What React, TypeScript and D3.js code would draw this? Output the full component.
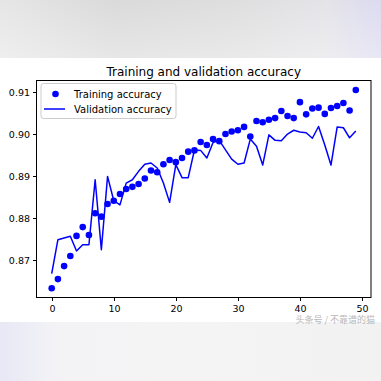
import React from "react";
import * as d3 from "d3";

const epochs = d3.range(50);
const trainingAcc = [
  0.8632, 0.8654, 0.8685, 0.8709, 0.8757, 0.8778, 0.8759, 0.8811, 0.8803, 0.8833,
  0.8841, 0.8857, 0.8869, 0.8874, 0.8881, 0.8894, 0.8913, 0.8909, 0.8928, 0.8938,
  0.8933, 0.8943, 0.8958, 0.8961, 0.8981, 0.8974, 0.8988, 0.8983, 0.9000, 0.9006,
  0.9009, 0.9017, 0.8994, 0.9031, 0.9028, 0.9034, 0.9038, 0.9055, 0.9043, 0.9038,
  0.9076, 0.9047, 0.9061, 0.9063, 0.9048, 0.9062, 0.9067, 0.9074, 0.9056, 0.9105,
];
const validationAcc = [
  0.8667, 0.8748, 0.8752, 0.8756, 0.8721, 0.8736, 0.8736, 0.8891, 0.8724, 0.8899,
  0.8841, 0.8831, 0.8883, 0.8891, 0.8911, 0.8928, 0.8931, 0.8919, 0.8883, 0.8837,
  0.8927, 0.8896, 0.8896, 0.8962, 0.8961, 0.8943, 0.8980, 0.8985, 0.8962, 0.8940,
  0.8928, 0.8931, 0.8988, 0.8971, 0.8926, 0.8998, 0.8985, 0.8984, 0.9000, 0.9009,
  0.9005, 0.9003, 0.8990, 0.9018, 0.8974, 0.8926, 0.9017, 0.9015, 0.8991, 0.9007,
];
const xTicks = [0, 10, 20, 30, 40, 50];
const yTicks = [0.87, 0.88, 0.89, 0.9, 0.91];
const title = "Training and validation accuracy";
const legendLabels = ["Training accuracy", "Validation accuracy"];
const watermark = "头条号 / 不靠谱的猫";

export default function App() {
  const W = 381, H = 381;
  const left = 36.5, right = 371, top = 80.5, bottom = 297.5;
  const x = d3.scaleLinear().domain([-2.45, 51.45]).range([left, right]);
  const y = d3.scaleLinear().domain([0.86101, 0.91277]).range([bottom, top]);
  const line = d3
    .line<number>()
    .x((_, i) => x(epochs[i]))
    .y((d) => y(d));
  const font = "'DejaVu Sans', sans-serif";
  const blue = "#0000ff";
  return (
    <svg
      width={W}
      height={H}
      style={{ position: "absolute", left: 0, top: 0 }}
      fontFamily={font}
    >
      <defs>
        <linearGradient id="topbg" x1="0" y1="0" x2="1" y2="0">
          <stop offset="0" stopColor="#e6e6e6" />
          <stop offset="0.3" stopColor="#dadada" />
          <stop offset="0.6" stopColor="#dedede" />
          <stop offset="0.85" stopColor="#e4e4e8" />
          <stop offset="1" stopColor="#dcdaf0" />
        </linearGradient>
        <linearGradient id="topv" x1="0" y1="0" x2="0" y2="1">
          <stop offset="0" stopColor="#ffffff" stopOpacity="0" />
          <stop offset="1" stopColor="#ffffff" stopOpacity="0.35" />
        </linearGradient>
        <linearGradient id="botbg" x1="0" y1="0" x2="1" y2="0">
          <stop offset="0" stopColor="#e8e8f6" />
          <stop offset="0.15" stopColor="#f3f3f6" />
          <stop offset="0.5" stopColor="#f4f4f4" />
          <stop offset="1" stopColor="#f2f2f2" />
        </linearGradient>
      </defs>
      <rect x={0} y={0} width={W} height={58} fill="url(#topbg)" />
      <rect x={0} y={0} width={W} height={58} fill="url(#topv)" />
      <rect x={0} y={58} width={W} height={264} fill="#ffffff" />
      <rect x={0} y={322} width={W} height={59} fill="url(#botbg)" />

      <text
        x={(left + right) / 2}
        y={76}
        textAnchor="middle"
        fontSize={12}
        fill="#000"
      >
        {title}
      </text>

      {/* validation line */}
      <path
        d={line(validationAcc) || ""}
        fill="none"
        stroke={blue}
        strokeWidth={1.5}
        strokeLinejoin="round"
      />
      {/* training points */}
      {trainingAcc.map((v, i) => (
        <circle key={i} cx={x(epochs[i])} cy={y(v)} r={3.3} fill={blue} />
      ))}

      {/* spines */}
      <rect
        x={left}
        y={top}
        width={right - left}
        height={bottom - top}
        fill="none"
        stroke="#000"
        strokeWidth={1}
      />

      {/* x ticks */}
      {xTicks.map((t) => (
        <g key={t} transform={`translate(${Math.round(x(t)) + 0.5},${bottom})`}>
          <line y1={0} y2={3.5} stroke="#000" />
          <text y={14.5} textAnchor="middle" fontSize={9.5} fill="#000">
            {t}
          </text>
        </g>
      ))}
      {/* y ticks */}
      {yTicks.map((t) => (
        <g key={t} transform={`translate(${left},${Math.round(y(t)) + 0.5})`}>
          <line x1={0} x2={-3.5} stroke="#000" />
          <text x={-6.5} dy="0.35em" textAnchor="end" fontSize={9.5} fill="#000">
            {d3.format(".2f")(t)}
          </text>
        </g>
      ))}

      {/* legend */}
      <g>
        <rect
          x={41}
          y={83.5}
          width={135}
          height={35}
          rx={2.5}
          fill="#ffffff"
          fillOpacity={0.8}
          stroke="#cccccc"
          strokeWidth={1}
        />
        <circle cx={55.5} cy={94} r={3.3} fill={blue} />
        <text x={74} y={97.5} fontSize={10} fill="#000">
          {legendLabels[0]}
        </text>
        <line x1={44} x2={65} y1={109} y2={109} stroke={blue} strokeWidth={1.5} />
        <text x={74} y={112.5} fontSize={10} fill="#000">
          {legendLabels[1]}
        </text>
      </g>

      <text
        x={375}
        y={322.5}
        textAnchor="end"
        fontSize={9}
        fill="#b8b8b8"
        fontFamily="'Noto Sans CJK SC', sans-serif"
      >
        {watermark}
      </text>
    </svg>
  );
}
